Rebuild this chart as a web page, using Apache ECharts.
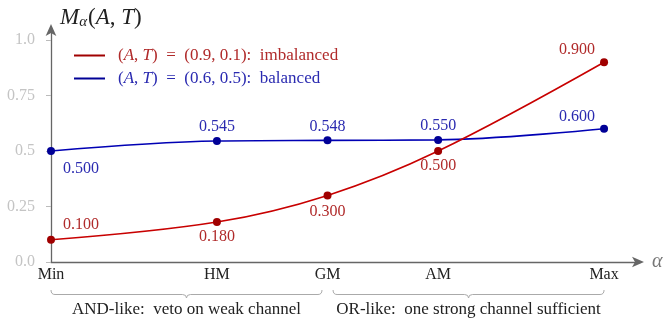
<!DOCTYPE html>
<html>
<head>
<meta charset="utf-8">
<script src="https://cdn.jsdelivr.net/npm/echarts@6/dist/echarts.min.js"></script>
<style>
  html, body { margin: 0; padding: 0; background: #fff; }
  #main { width: 670px; height: 325px; }
</style>
</head>
<body>
<div id="main"></div>
<script>
// 横轴：各均值的位置（非等距）和名称
var categories = ['Min', 'HM', 'GM', 'AM', 'Max']
var xPos = [0, 1.5, 2.5, 3.5, 5]
// 两条曲线的取值
var imbalanced = [0.100, 0.180, 0.300, 0.500, 0.900]
var balanced = [0.500, 0.545, 0.548, 0.550, 0.600]
// 纵轴刻度
var yTicks = [0, 0.25, 0.5, 0.75, 1.0]
var yTickLabels = ['0.0', '0.25', '0.5', '0.75', '1.0']
// 下方括号分组
var groupFrom = [0, 2.55]
var groupTo = [2.45, 5]
var groupText = ['AND-like:  veto on weak channel', 'OR-like:  one strong channel sufficient']

var FONT = 'Liberation Serif'
var RED = '#c80000', RED_DOT = '#a00000', RED_TXT = '#b02a2a'
var BLUE = '#0000b4', BLUE_DOT = '#000096', BLUE_TXT = '#2a2ab0'

// 标签偏移：红线 Min 在右上，中间点在下，Max 在左上；蓝线 Min 在右下，其余在上
var redLabelPos = [[30, -15], [0, 15], [0, 16], [0, 15], [-27, -12]]
var blueLabelPos = [[30, 18], [0, -14], [0, -14], [0, -14], [-27, -12]]

function buildData(values, offsets, txtColor) {
    return values.map(function(v, i) {
        return {
            value: [xPos[i], v],
            label: {
                show: true,
                position: 'inside',
                offset: offsets[i],
                formatter: v.toFixed(3),
                color: txtColor,
                fontFamily: FONT,
                fontSize: 16
            }
        }
    })
}

var chart = echarts.init(document.getElementById('main'))

var option = {
    animation: false,
    textStyle: { fontFamily: FONT },
    grid: { left: 51, right: 30, top: 28, bottom: 63 },
    title: {
        text: '{m|M}{s|α}{n|(}{m|A}{n|, }{m|T}{n|)}',
        left: 55, top: 0,
        textStyle: {
            fontWeight: 'normal',
            rich: {
                m: { fontFamily: FONT, fontStyle: 'italic', fontWeight: 'normal', fontSize: 23, color: '#222' },
                n: { fontFamily: FONT, fontWeight: 'normal', fontSize: 23, color: '#222' },
                s: { fontFamily: FONT, fontStyle: 'italic', fontWeight: 'normal', fontSize: 15, color: '#222', padding: [10, 1, 0, 0] }
            }
        }
    },
    legend: {
        left: 74, top: 47, padding: 0, orient: 'vertical', itemGap: 6,
        itemWidth: 31, itemHeight: 2, icon: 'rect',
        data: [
            { name: 'imb', textStyle: { color: RED_TXT } },
            { name: 'bal', textStyle: { color: BLUE_TXT } }
        ],
        formatter: function(name) {
            var v = name === 'imb' ? '0.9, 0.1' : '0.6, 0.5'
            var w = name === 'imb' ? 'imbalanced' : 'balanced'
            return '{n|(}{i|A}{n|, }{i|T}{n|)  =  (' + v + '):  ' + w + '}'
        },
        textStyle: {
            fontFamily: FONT, fontSize: 17, padding: [0, 0, 0, 8],
            rich: {
                n: { fontFamily: FONT, fontSize: 17 },
                i: { fontFamily: FONT, fontSize: 17, fontStyle: 'italic' }
            }
        }
    },
    xAxis: {
        type: 'value',
        min: 0,
        max: 5.325,
        splitLine: { show: false },
        axisLine: {
            lineStyle: { color: '#666', width: 1.3 },
            symbol: ['none', 'arrow'], symbolSize: [8, 12], symbolOffset: [0, 4]
        },
        axisTick: { show: false },
        axisLabel: {
            customValues: xPos,
            formatter: function(v) { return categories[xPos.indexOf(v)] },
            color: '#222', fontSize: 16, fontFamily: FONT, margin: 5
        },
        name: 'α',
        nameLocation: 'end',
        nameGap: 12,
        nameTextStyle: { color: '#777', fontStyle: 'italic', fontSize: 20, fontFamily: FONT, verticalAlign: 'middle', padding: [13, 0, 0, 0] }
    },
    yAxis: {
        type: 'value',
        min: 0,
        max: 1.054,
        splitLine: { show: false },
        axisLine: {
            show: true,
            lineStyle: { color: '#666', width: 1.3 },
            symbol: ['none', 'arrow'], symbolSize: [8, 12], symbolOffset: [0, 4]
        },
        axisTick: { show: true, customValues: yTicks, length: 5, lineStyle: { color: '#bbb' } },
        axisLabel: {
            customValues: yTicks,
            formatter: function(v) { return yTickLabels[yTicks.indexOf(v)] },
            color: '#c4c4c4', fontSize: 16, fontFamily: FONT, margin: 16
        }
    },
    series: [
        {
            name: 'imb', type: 'line', smooth: 0.35,
            data: buildData(imbalanced, redLabelPos, RED_TXT),
            lineStyle: { color: RED, width: 1.6 },
            itemStyle: { color: RED_DOT },
            symbol: 'circle', symbolSize: 8, z: 3
        },
        {
            name: 'bal', type: 'line', smooth: 0.35,
            data: buildData(balanced, blueLabelPos, BLUE_TXT),
            lineStyle: { color: BLUE, width: 1.6 },
            itemStyle: { color: BLUE_DOT },
            symbol: 'circle', symbolSize: 8, z: 2
        }
    ]
}

chart.setOption(option)

// 下方花括号和说明文字，位置由坐标轴换算
var braceY = 290, yb = 294.5, tipY = 298, r = 4
var braceStyle = { fill: null, stroke: '#aaa', lineWidth: 1 }
var graphics = []
for (var g = 0; g < groupFrom.length; g++) {
    var x1 = chart.convertToPixel({ gridIndex: 0 }, [groupFrom[g], 0])[0]
    var x2 = chart.convertToPixel({ gridIndex: 0 }, [groupTo[g], 0])[0]
    var xm = (x1 + x2) / 2
    graphics.push(
        { type: 'bezierCurve', shape: { x1: x1, y1: braceY, cpx1: x1, cpy1: yb, x2: x1 + r, y2: yb }, style: braceStyle },
        { type: 'line', shape: { x1: x1 + r, y1: yb, x2: xm - r, y2: yb }, style: braceStyle },
        { type: 'bezierCurve', shape: { x1: xm - r, y1: yb, cpx1: xm, cpy1: yb, x2: xm, y2: tipY }, style: braceStyle },
        { type: 'bezierCurve', shape: { x1: xm, y1: tipY, cpx1: xm, cpy1: yb, x2: xm + r, y2: yb }, style: braceStyle },
        { type: 'line', shape: { x1: xm + r, y1: yb, x2: x2 - r, y2: yb }, style: braceStyle },
        { type: 'bezierCurve', shape: { x1: x2 - r, y1: yb, cpx1: x2, cpy1: yb, x2: x2, y2: braceY }, style: braceStyle },
        {
            type: 'text', x: xm, y: 310,
            style: { text: groupText[g], font: '17px "' + FONT + '"', fill: '#222', align: 'center', verticalAlign: 'middle' }
        }
    )
}
chart.setOption({ graphic: graphics })
</script>
</body>
</html>
